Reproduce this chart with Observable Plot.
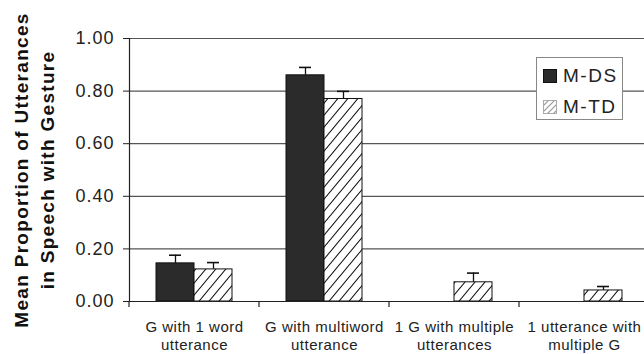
<!DOCTYPE html>
<html>
<head>
<meta charset="utf-8">
<script src="https://cdn.jsdelivr.net/npm/d3@7"></script>
<script src="https://cdn.jsdelivr.net/npm/@observablehq/plot@0.6"></script>
<style>
  html, body { margin: 0; padding: 0; background: #fff; overflow: hidden; }
  #chart { position: relative; width: 644px; height: 354px; font-family: "Liberation Sans", Arial, sans-serif; }
  #chart svg { display: block; }
  g[aria-label="y-axis tick label"] text { letter-spacing: 1px; }
  g[aria-label="fx-axis tick label"] text { letter-spacing: 0.5px; }
  g[aria-label="text"] text { letter-spacing: 1.3px; }
  #legend {
    position: absolute; left: 536px; top: 57px; width: 87px; height: 63px;
    box-sizing: border-box; border: 1px solid #888; background: #fff;
  }
  #legend .item { position: absolute; left: 6px; height: 20px; display: flex; align-items: center; }
  #legend .item span { margin-left: 6px; font-size: 19px; letter-spacing: 1.5px; color: #222; line-height: 20px; }
</style>
</head>
<body>
<svg width="0" height="0" style="position:absolute">
  <defs>
    <pattern id="hatch" patternUnits="userSpaceOnUse" width="10" height="12">
      <rect width="10" height="12" fill="#fff"/>
      <path d="M-2,2.4 L2,-2.4 M0,12 L10,0 M8,14.4 L12,9.6" stroke="#111" stroke-width="1.1"/>
    </pattern>
    <pattern id="hatchKey" patternUnits="userSpaceOnUse" width="6" height="6">
      <rect width="6" height="6" fill="#fff"/>
      <path d="M-1,1 L1,-1 M0,6 L6,0 M5,7 L7,5" stroke="#999" stroke-width="1.2"/>
    </pattern>
  </defs>
</svg>
<div id="chart"></div>
<script>
// Gesture + speech combinations, by group
const categories = [
  "G with 1 word utterance",
  "G with multiword utterance",
  "1 G with multiple utterances",
  "1 utterance with multiple G"
];
const tickLabels = [
  "G with 1 word\nutterance",
  "G with multiword\nutterance",
  "1 G with multiple\nutterances",
  "1 utterance with\nmultiple G"
];
const groups = ["M-DS", "M-TD"];
const meansDS = [0.145, 0.86, 0, 0];
const errDS = [0.031, 0.03, 0, 0];
const meansTD = [0.122, 0.77, 0.073, 0.042];
const errTD = [0.026, 0.029, 0.035, 0.015];
const yTicks = [0, 0.2, 0.4, 0.6, 0.8, 1.0];
const yTitle = "Mean Proportion of Utterances\nin Speech with Gesture";

const rows = categories.flatMap((c, i) => [
  {category: c, group: groups[0], mean: meansDS[i], err: errDS[i]},
  {category: c, group: groups[1], mean: meansTD[i], err: errTD[i]}
]);
const shown = rows.filter(d => d.mean > 0);
const dsRows = shown.filter(d => d.group === groups[0]);
const tdRows = shown.filter(d => d.group === groups[1]);

const chart = Plot.plot({
  width: 644,
  height: 354,
  marginTop: 38,
  marginBottom: 53,
  marginLeft: 129,
  marginRight: -5,
  style: {fontFamily: '"Liberation Sans", Arial, sans-serif', background: "transparent", color: "#222"},
  fx: {domain: categories, padding: 0},
  x: {domain: groups, paddingInner: 0, paddingOuter: 0.71, axis: null},
  y: {domain: [0, 1]},
  marks: [
    Plot.ruleY(yTicks.slice(1), {stroke: "#555", strokeWidth: 1.2}),
    Plot.barY(dsRows, {fx: "category", x: "group", y: "mean", fill: "#2b2b2b", stroke: "#111", strokeWidth: 1}),
    Plot.barY(tdRows, {fx: "category", x: "group", y: "mean", fill: "url(#hatch)", stroke: "#111", strokeWidth: 1}),
    Plot.ruleX(shown, {fx: "category", x: "group", y1: "mean", y2: d => d.mean + d.err, stroke: "#111", strokeWidth: 1.3}),
    Plot.tickY(shown, {fx: "category", x: "group", y: d => d.mean + d.err, insetLeft: 13, insetRight: 13, stroke: "#111", strokeWidth: 1.6}),
    Plot.ruleY([0], {stroke: "#222", strokeWidth: 1.2}),
    Plot.frame({anchor: "left", facetAnchor: "left", stroke: "#222", strokeWidth: 1.2}),
    Plot.axisY({ticks: yTicks, tickFormat: d3.format(".2f"), tickSize: 6, tickPadding: 9, fontSize: 18, label: null, stroke: "#222", fill: "#222"}),
    Plot.axisFx({anchor: "bottom", tickSize: 0, tickPadding: 17, fontSize: 15, lineHeight: 1.22, tickFormat: c => tickLabels[categories.indexOf(c)], label: null, fill: "#222"}),
    Plot.text([yTitle], {frameAnchor: "left", facetAnchor: "left", textAnchor: "middle", rotate: -90, dx: -97, lineHeight: 1.35, fontSize: 19, fontWeight: "bold", fill: "#111"})
  ]
});

// tick marks on the category axis sit at the band edges
const fxScale = chart.scale("fx");
const yScale = chart.scale("y");
const edges = categories.map(c => fxScale.apply(c)).concat([fxScale.apply(categories[categories.length - 1]) + fxScale.bandwidth]);
const y0 = yScale.apply(0);
d3.select(chart).append("g")
  .attr("aria-label", "fx-axis edge tick")
  .selectAll("line")
  .data(edges)
  .join("line")
  .attr("x1", d => d).attr("x2", d => d)
  .attr("y1", y0).attr("y2", y0 + 6)
  .attr("stroke", "#222").attr("stroke-width", 1.2);

const root = document.getElementById("chart");
root.append(chart);

// legend box
const legend = d3.select(root).append("div").attr("id", "legend");
const items = legend.selectAll("div.item").data(groups).join("div")
  .attr("class", "item")
  .style("top", (d, i) => `${8 + i * 31}px`);
items.append("svg").attr("width", 14).attr("height", 14)
  .append("rect")
  .attr("x", 0.5).attr("y", 0.5).attr("width", 13).attr("height", 13)
  .attr("fill", (d, i) => i === 0 ? "#2b2b2b" : "url(#hatchKey)")
  .attr("stroke", (d, i) => i === 0 ? "#111" : "#aaa");
items.append("span").text(d => d);
</script>
</body>
</html>
